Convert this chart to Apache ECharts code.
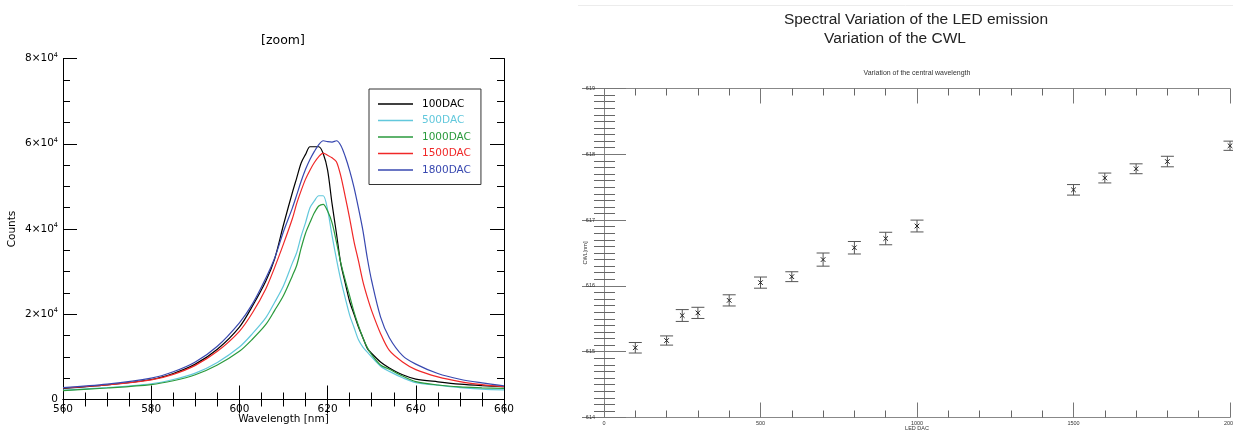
<!DOCTYPE html>
<html>
<head>
<meta charset="utf-8">
<script src="https://cdn.jsdelivr.net/npm/echarts@6/dist/echarts.min.js"></script>
<style>
html,body{margin:0;padding:0;background:#fff;}
#c{width:1233px;height:433px;}
</style>
</head>
<body>
<div id="c"></div>
<script>
// ---- Left panel: spectra ----
var wavelength = [560,570,580,585,590,595,600,603,606,608,610,612,613,614,615,616,617,618,619,620,621,622,623,624,625,626,627,628,629,630,632,634,637,640,645,650,655,660];
var dac100  = [2600,3400,4700,6100,8300,11800,17000,22000,27800,33000,41000,48500,52000,55500,57500,59300,59300,59300,57700,53800,46000,39000,31800,27300,23000,20000,17000,14500,12000,10800,8800,7400,5800,4800,4150,3600,3250,3000];
var dac500  = [2200,2800,3700,4700,6200,8700,12300,15500,19200,22800,26700,32000,34500,38300,41500,45000,46600,47800,47800,44500,38500,33000,28000,23800,19800,16900,14000,12300,11100,9950,7800,6600,5100,3950,3350,2800,2450,2250];
var dac1000 = [2100,2700,3500,4400,5800,8100,11300,14200,17600,20900,24400,29000,31500,35500,39000,41500,43800,45400,45800,44200,41500,37000,32000,28000,24300,20500,17300,14500,12200,10500,8100,7100,5500,4200,3400,2950,2750,2600];
var dac1500 = [2700,3400,4600,5900,8000,11300,16000,20400,26000,31000,36500,42400,46000,49000,51700,53800,55600,57000,57800,57300,56700,55800,52400,47600,42500,37000,32500,27700,24000,20800,15500,11500,8800,7000,5300,4200,3500,3000];
var dac1800 = [2800,3600,5000,6500,8800,12500,18000,22500,28500,33200,39400,44900,48000,51200,54000,56300,58200,59800,60700,60500,60400,60700,59600,57000,53700,49700,44900,39700,33200,27800,19400,14500,10300,8300,6100,4750,3900,3200];
var seriesNames = ['100DAC','500DAC','1000DAC','1500DAC','1800DAC'];
var seriesColors = ['#000000','#62c8dc','#2a9a3c','#f02828','#3848b0'];
var seriesValues = [dac100, dac500, dac1000, dac1500, dac1800];

// ---- Right panel: central wavelength ----
var ledDac = [100,200,250,300,400,500,600,700,800,900,1000,1500,1600,1700,1800,2000];
var cwl    = [615.06,615.17,615.55,615.59,615.78,616.05,616.14,616.40,616.58,616.72,616.91,617.46,617.64,617.78,617.89,618.13];
var cwlErr = [0.08,0.07,0.09,0.085,0.085,0.085,0.075,0.10,0.095,0.095,0.09,0.08,0.075,0.075,0.08,0.07];

var LF = 'DejaVu Sans';
var RF = 'Liberation Sans';

function zip(xs, ys){ return xs.map(function(x,i){ return [x, ys[i]]; }); }

var lineSeries = seriesNames.map(function(n,i){
  return {
    name: n, type: 'line', xAxisIndex: 0, yAxisIndex: 0,
    data: zip(wavelength, seriesValues[i]),
    symbol: 'none', smooth: 0.3,
    lineStyle: {color: seriesColors[i], width: 1.2},
    itemStyle: {color: seriesColors[i]},
    animation: false
  };
});

var errData = ledDac.map(function(d,i){ return [d, cwl[i], cwlErr[i]]; });

var errSeries = {
  type: 'custom', xAxisIndex: 2, yAxisIndex: 2,
  data: errData, encode: {x: 0, y: 1}, clip: false,
  animation: false,
  renderItem: function(params, api){
    var x = api.value(0), y = api.value(1), e = api.value(2);
    var p = api.coord([x, y]), t = api.coord([x, y + e]), b = api.coord([x, y - e]);
    var w = 6.5, m = 2.3;
    var st = {stroke: '#555', lineWidth: 1};
    var sm = {stroke: '#222', lineWidth: 1};
    return {type: 'group', children: [
      {type:'line', shape:{x1:p[0], y1:t[1], x2:p[0], y2:b[1]}, style: st},
      {type:'line', shape:{x1:p[0]-w, y1:t[1], x2:p[0]+w, y2:t[1]}, style: st},
      {type:'line', shape:{x1:p[0]-w, y1:b[1], x2:p[0]+w, y2:b[1]}, style: st},
      {type:'line', shape:{x1:p[0]-m, y1:p[1]-m, x2:p[0]+m, y2:p[1]+m}, style: sm},
      {type:'line', shape:{x1:p[0]-m, y1:p[1]+m, x2:p[0]+m, y2:p[1]-m}, style: sm}
    ]};
  }
};

function leftTicks(extra){
  var o = {
    gridIndex: 0, type: 'value', nameMoveOverlap: false,
    axisLine: {show: true, lineStyle: {color: '#000', width: 1}},
    axisTick: {show: true, inside: true, length: 14, lineStyle: {color: '#000', width: 1}},
    minorTick: {show: true, splitNumber: 4, length: 7, lineStyle: {color: '#000', width: 1}},
    splitLine: {show: false}, minorSplitLine: {show: false},
    axisLabel: {show: false}
  };
  for (var k in extra) o[k] = extra[k];
  return o;
}
function rightTicks(extra, major, minor){
  var o = {
    gridIndex: 1, type: 'value', nameMoveOverlap: false,
    axisLine: {show: true, lineStyle: {color: '#888', width: 1}},
    axisTick: {show: true, inside: true, length: major, lineStyle: {color: '#777', width: 1}},
    minorTick: {show: true, length: minor, lineStyle: {color: '#666', width: 1}},
    splitLine: {show: false}, minorSplitLine: {show: false},
    axisLabel: {show: false}
  };
  for (var k in extra) o[k] = extra[k];
  return o;
}
function plain(v){ return String(v); }

var option = {
  backgroundColor: '#fff',
  animation: false,
  grid: [
    {left: 63, top: 58.5, width: 441, height: 341, outerBoundsMode: 'none', containLabel: false},
    {left: 604, top: 88.5, width: 626, height: 329, outerBoundsMode: 'none', containLabel: false}
  ],
  legend: {
    left: 369, top: 89, orient: 'vertical', icon: 'rect',
    itemWidth: 35, itemHeight: 1.5, itemGap: 5.5,
    padding: [9.5, 10, 9, 9],
    borderColor: '#333', borderWidth: 1, borderRadius: 0, backgroundColor: '#fff',
    selectedMode: false,
    textStyle: {fontFamily: LF, fontSize: 10.5, lineHeight: 11, padding: [0, 0, 0, 4]},
    data: seriesNames.map(function(n,i){ return {name: n, textStyle: {color: seriesColors[i]}}; })
  },
  xAxis: [
    leftTicks({min: 560, max: 660, interval: 20, position: 'bottom',
      axisLabel: {show: true, color: '#000', fontFamily: LF, fontSize: 10.5, margin: 4, formatter: plain},
      name: 'Wavelength [nm]', nameLocation: 'middle', nameGap: 14,
      nameTextStyle: {color: '#000', fontFamily: LF, fontSize: 10.5}}),
    leftTicks({min: 560, max: 660, interval: 20, position: 'top'}),
    rightTicks({min: 0, max: 2000, interval: 500, position: 'bottom',
      minorTick: {show: true, splitNumber: 5, length: 7, lineStyle: {color: '#666', width: 1}},
      axisLabel: {show: true, color: '#333', fontFamily: RF, fontSize: 5.5, margin: 3, formatter: plain},
      name: 'LED DAC', nameLocation: 'middle', nameGap: 7.5,
      nameTextStyle: {color: '#333', fontFamily: RF, fontSize: 5.5}}, 15, 7),
    rightTicks({min: 0, max: 2000, interval: 500, position: 'top',
      minorTick: {show: true, splitNumber: 5, length: 7, lineStyle: {color: '#666', width: 1}}}, 15, 7)
  ],
  yAxis: [
    leftTicks({min: 0, max: 80000, interval: 20000, position: 'left',
      axisLabel: {show: true, margin: 5, color: '#000',
        formatter: function(v){ return v === 0 ? '{m|0}' : '{m|' + (v/10000) + '×10}{s|4}'; },
        rich: {
          m: {fontFamily: LF, fontSize: 10.5, color: '#000'},
          s: {fontFamily: LF, fontSize: 6.5, color: '#000', padding: [0, 0, 7, 0]}
        }},
      name: 'Counts', nameLocation: 'middle', nameRotate: 90, nameGap: 45,
      nameTextStyle: {color: '#000', fontFamily: LF, fontSize: 10.5}}),
    leftTicks({min: 0, max: 80000, interval: 20000, position: 'right'}),
    rightTicks({min: 614, max: 619, interval: 1, position: 'left',
      minorTick: {show: true, splitNumber: 10, length: 11, lineStyle: {color: '#666', width: 1}},
      axisLabel: {show: true, color: '#333', fontFamily: RF, fontSize: 5.5, margin: 9, formatter: plain},
      name: 'CWL[nm]', nameLocation: 'middle', nameRotate: 90, nameGap: 16,
      nameTextStyle: {color: '#333', fontFamily: RF, fontSize: 5.5}}, 22, 11),
    rightTicks({min: 614, max: 619, interval: 1, position: 'right',
      minorTick: {show: true, splitNumber: 10, length: 10, lineStyle: {color: '#666', width: 1}}}, 22, 10)
  ],
  graphic: [
    {type: 'line', shape: {x1: 578, y1: 5.5, x2: 1233, y2: 5.5}, style: {stroke: '#ececec', lineWidth: 1}, silent: true},
    {type: 'text', x: 283, y: 41, style: {text: '[zoom]', font: '12.5px "DejaVu Sans"', fill: '#000', align: 'center', verticalAlign: 'middle'}},
    {type: 'text', x: 916, y: 20, style: {text: 'Spectral Variation of the LED emission', font: '15.5px "Liberation Sans"', fill: '#222', align: 'center', verticalAlign: 'middle'}},
    {type: 'text', x: 895, y: 39, style: {text: 'Variation of the CWL', font: '15.5px "Liberation Sans"', fill: '#222', align: 'center', verticalAlign: 'middle'}},
    {type: 'text', x: 917, y: 73, style: {text: 'Variation of the central wavelength', font: '7px "Liberation Sans"', fill: '#333', align: 'center', verticalAlign: 'middle'}}
  ],
  series: lineSeries.concat([errSeries])
};

var chart = echarts.init(document.getElementById('c'), null, {renderer: 'canvas'});
chart.setOption(option);
</script>
</body>
</html>
